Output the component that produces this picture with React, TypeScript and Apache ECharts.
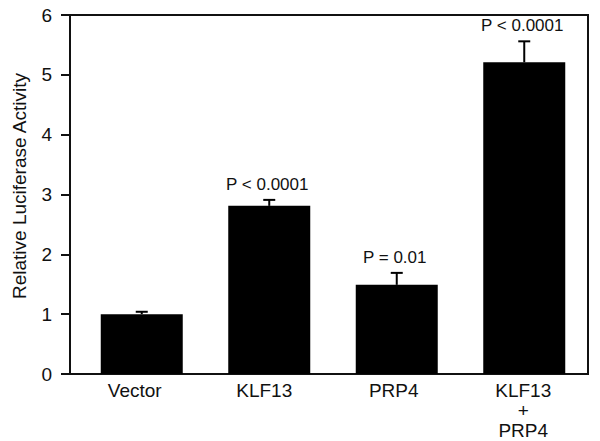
import React, { useEffect, useRef } from "react";
import * as echarts from "echarts";

const categories = ["Vector", "KLF13", "PRP4", "KLF13\n+\nPRP4"];
const means = [1.0, 2.81, 1.49, 5.21];
const upperErrors = [1.04, 2.91, 1.69, 5.56];
const pLabels = ["", "P < 0.0001", "P = 0.01", "P < 0.0001"];
const yTicks = { min: 0, max: 6, interval: 1 };
const yTitle = "Relative Luciferase Activity";

const FONT = "'Liberation Sans', Arial, Helvetica, sans-serif";
const INK = "#111";

export default function App() {
  const ref = useRef<HTMLDivElement>(null);
  useEffect(() => {
    if (!ref.current) return;
    const chart = echarts.init(ref.current, null, { renderer: "svg" });
    const option: any = {
      animation: false,
      backgroundColor: "#fff",
      grid: [
        { left: 70, right: 12, top: 15, bottom: 67, show: true, borderColor: INK, borderWidth: 2, backgroundColor: "transparent" },
        { left: 78, right: 12, top: 15, bottom: 67, show: false },
      ],
      xAxis: [
        {
          type: "category",
          gridIndex: 0,
          data: categories,
          axisLine: { show: true, lineStyle: { color: INK, width: 2 } },
          axisTick: { show: false },
          axisLabel: { color: INK, fontFamily: FONT, fontSize: 19, lineHeight: 20, margin: 6 },
        },
        {
          type: "category",
          gridIndex: 1,
          data: categories,
          show: false,
        },
      ],
      yAxis: [
        {
          type: "value",
          gridIndex: 0,
          ...yTicks,
          axisLine: { show: true, lineStyle: { color: INK, width: 2 } },
          axisTick: { show: true, length: 9, lineStyle: { color: INK, width: 2 } },
          axisLabel: { color: INK, fontFamily: FONT, fontSize: 19, margin: 18 },
          splitLine: { show: false },
        },
        {
          type: "value",
          gridIndex: 1,
          ...yTicks,
          show: false,
          splitLine: { show: false },
        },
      ],
      graphic: [
        {
          type: "text",
          x: 19,
          y: 186,
          rotation: Math.PI / 2,
          style: {
            text: yTitle,
            fill: INK,
            font: `19px ${FONT}`,
            align: "center",
            verticalAlign: "middle",
          },
        },
      ],
      series: [
        {
          type: "bar",
          xAxisIndex: 1,
          yAxisIndex: 1,
          data: means,
          barWidth: 82,
          itemStyle: { color: "#000" },
        },
        {
          type: "custom",
          xAxisIndex: 1,
          yAxisIndex: 1,
          data: means.map((m, i) => [i, m, upperErrors[i]]),
          renderItem: (params: any, api: any) => {
            const i = api.value(0);
            const lo = api.coord([i, api.value(1)]);
            const hi = api.coord([i, api.value(2)]);
            const children: any[] = [
              { type: "line", shape: { x1: lo[0], y1: lo[1], x2: hi[0], y2: hi[1] }, style: { stroke: "#000", lineWidth: 2 } },
              { type: "line", shape: { x1: hi[0] - 6, y1: hi[1], x2: hi[0] + 6, y2: hi[1] }, style: { stroke: "#000", lineWidth: 2 } },
            ];
            const t = pLabels[params.dataIndex];
            if (t) {
              children.push({
                type: "text",
                x: hi[0] - 2,
                y: hi[1] - 7,
                style: { text: t, fill: INK, font: `17px ${FONT}`, align: "center", verticalAlign: "bottom" },
              });
            }
            return { type: "group", children };
          },
        },
      ],
    };
    chart.setOption(option);
    return () => chart.dispose();
  }, []);
  return <div ref={ref} style={{ width: 600, height: 441, position: "absolute", left: 0, top: 0 }} />;
}
